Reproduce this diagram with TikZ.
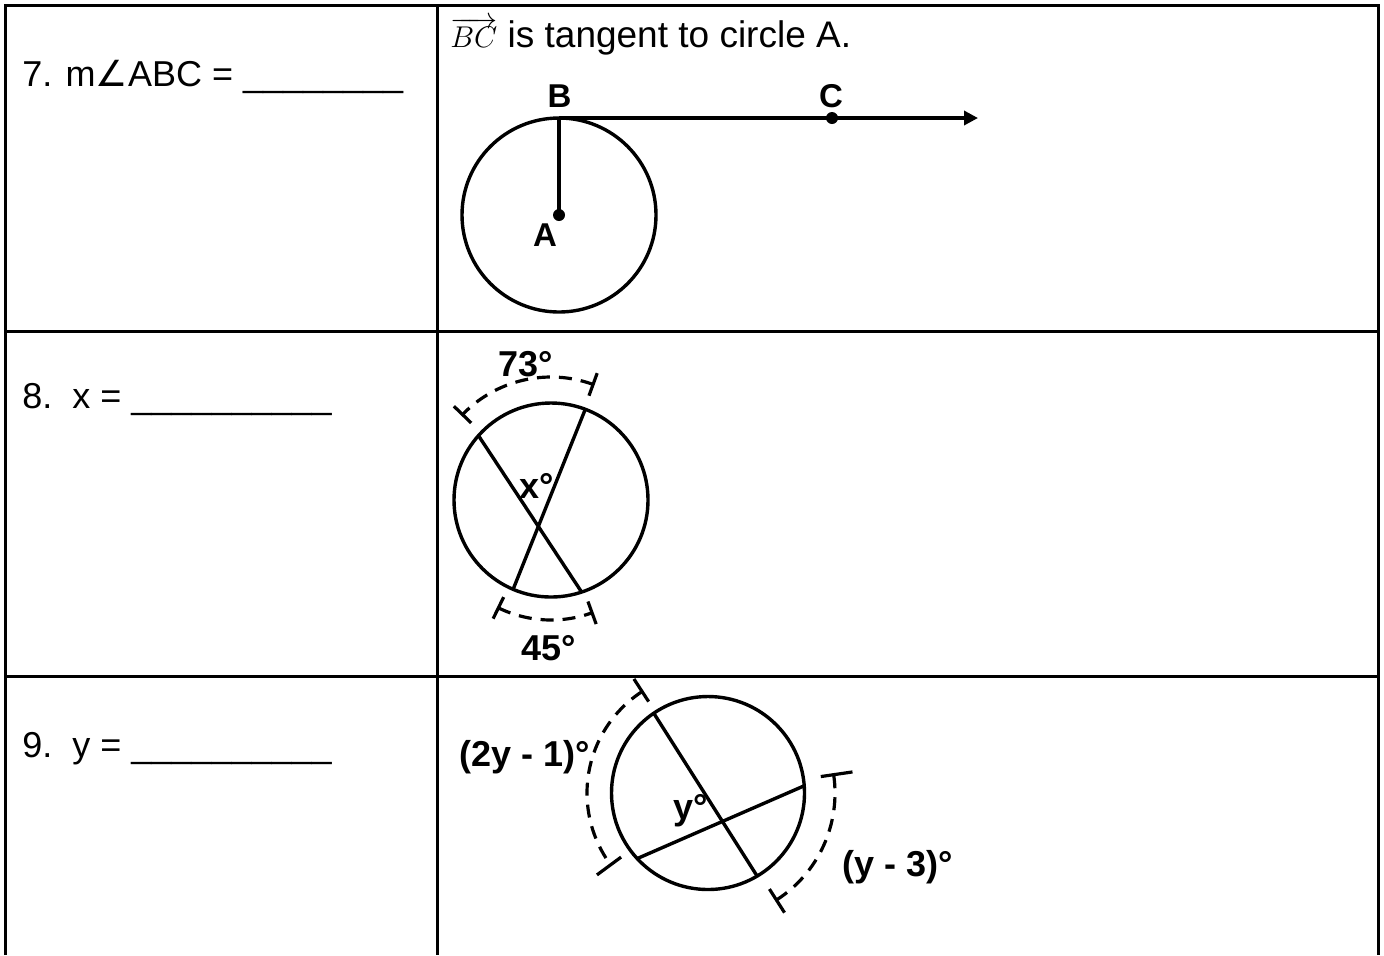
\RequirePackage{fix-cm}
\documentclass[tikz,border=0pt]{standalone}
\usepackage{fontspec}
\setmainfont{Liberation Sans}
\newfontfamily\dejavu{DejaVu Sans}
\usetikzlibrary{calc,arrows.meta}
\tikzset{
  tbl/.style={line width=1.5pt},
  geo/.style={line width=1.7pt},
  dsh/.style={line width=1.6pt, dash pattern=on 6.5pt off 4.5pt},
  tck/.style={line width=1.6pt},
  qtxt/.style={font=\fontsize{18}{21}\selectfont, inner sep=0pt, anchor=base west},
  ttxt/.style={font=\fontsize{18.5}{22}\selectfont, inner sep=0pt, anchor=base west},
  lbl/.style={font=\fontsize{18}{21}\selectfont\bfseries, inner sep=0pt, anchor=base},
  ptlbl/.style={font=\fontsize{16.5}{20}\selectfont\bfseries, inner sep=0pt, anchor=base},
  dot/.style={fill=black}
}
\begin{document}
\begin{tikzpicture}[x=0.5pt,y=-0.5pt]
\useasboundingbox (0,0) rectangle (1384,955);
% table
\draw[tbl] (5,955) -- (5,5) -- (1378,5) -- (1378,955);
\draw[tbl] (437,5) -- (437,955);
\draw[tbl] (5,331) -- (1378,331);
\draw[tbl] (5,676) -- (1378,676);
% questions
\node[qtxt] (q7) at (22,86) {7. m{\dejavu ∠}ABC = \_\_\_\_\_\_\_\_};
\node[qtxt] (q8) at (22,408) {8.\ \ x = \_\_\_\_\_\_\_\_\_\_};
\node[qtxt] (q9) at (22,757) {9.\ \ y = \_\_\_\_\_\_\_\_\_\_};
% ---- panel 1
\node[ttxt] (tan) at (450,47) {{\fontsize{15}{18}\selectfont$\overrightarrow{BC}$} is tangent to circle A.};
\coordinate (A) at (559,215);
\coordinate (B) at (559,118);
\coordinate (C) at (832,118);
\coordinate (T) at (978,118);
\draw[geo] (A) circle[radius=97];
\draw[geo] (A) -- (B);
\draw[geo,-{Triangle[length=7pt,width=7pt]}] (B) -- (T);
\fill[dot] (A) circle[radius=6];
\fill[dot] (C) circle[radius=6];
\node[ptlbl] (lB) at (559.5,107) {B};
\node[ptlbl] (lC) at (831,107) {C};
\node[ptlbl] (lA) at (545,246) {A};
% ---- panel 2
\coordinate (O2) at (551,500);
\coordinate (P1) at ($(O2)+(-138.4:97)$);
\coordinate (P2) at ($(O2)+(-288.4:97)$);
\coordinate (P3) at ($(O2)+(-69.3:97)$);
\coordinate (P4) at ($(O2)+(-247:97)$);
\draw[geo] (O2) circle[radius=97];
\draw[geo] (P1) -- (P2);
\draw[geo] (P3) -- (P4);
\draw[dsh] ($(O2)+(-70:123)$) arc[start angle=-70, end angle=-136, radius=123];
\draw[tck] ($(O2)+(-70:111)$) -- ($(O2)+(-70:135)$);
\draw[tck] ($(O2)+(-136:111)$) -- ($(O2)+(-136:135)$);
\draw[dsh] ($(O2)+(-244:120)$) arc[start angle=-244, end angle=-290, radius=120];
\draw[tck] ($(O2)+(-244:108)$) -- ($(O2)+(-244:132)$);
\draw[tck] ($(O2)+(-290:108)$) -- ($(O2)+(-290:132)$);
\node[lbl] (l73) at (526,376) {73°};
\node[lbl] (lx) at (537,498) {x°};
\node[lbl] (l45) at (549,660) {45°};
% ---- panel 3
\coordinate (O3) at (708,793);
\coordinate (Q1) at ($(O3)+(-124.2:96.5)$);
\coordinate (Q2) at ($(O3)+(-300.6:96.5)$);
\coordinate (Q3) at ($(O3)+(-222.8:96.5)$);
\coordinate (Q4) at ($(O3)+(-4.3:96.5)$);
\draw[geo] (O3) circle[radius=96.5];
\draw[geo] (Q1) -- (Q2);
\draw[geo] (Q3) -- (Q4);
\draw[dsh] ($(O3)+(-123:121)$) arc[start angle=-123, end angle=-216.4, radius=121];
\draw[tck] ($(O3)+(-123:109)$) -- ($(O3)+(-123:136)$);
\draw[tck] ($(O3)+(-216.4:108)$) -- ($(O3)+(-216.4:138)$);
\draw[dsh] ($(O3)+(-302.6:127)$) arc[start angle=-302.6, end angle=-368.3, radius=127];
\draw[tck] ($(O3)+(-302.6:114)$) -- ($(O3)+(-302.6:142)$);
\draw[tck] ($(O3)+(-8.3:114)$) -- ($(O3)+(-8.3:146)$);
\node[lbl] (l2y) at (525,766) {(2y - 1)°};
\node[lbl] (ly3) at (898,876) {(y - 3)°};
\node[lbl] (ly) at (691,819) {y°};
\end{tikzpicture}
\end{document}
